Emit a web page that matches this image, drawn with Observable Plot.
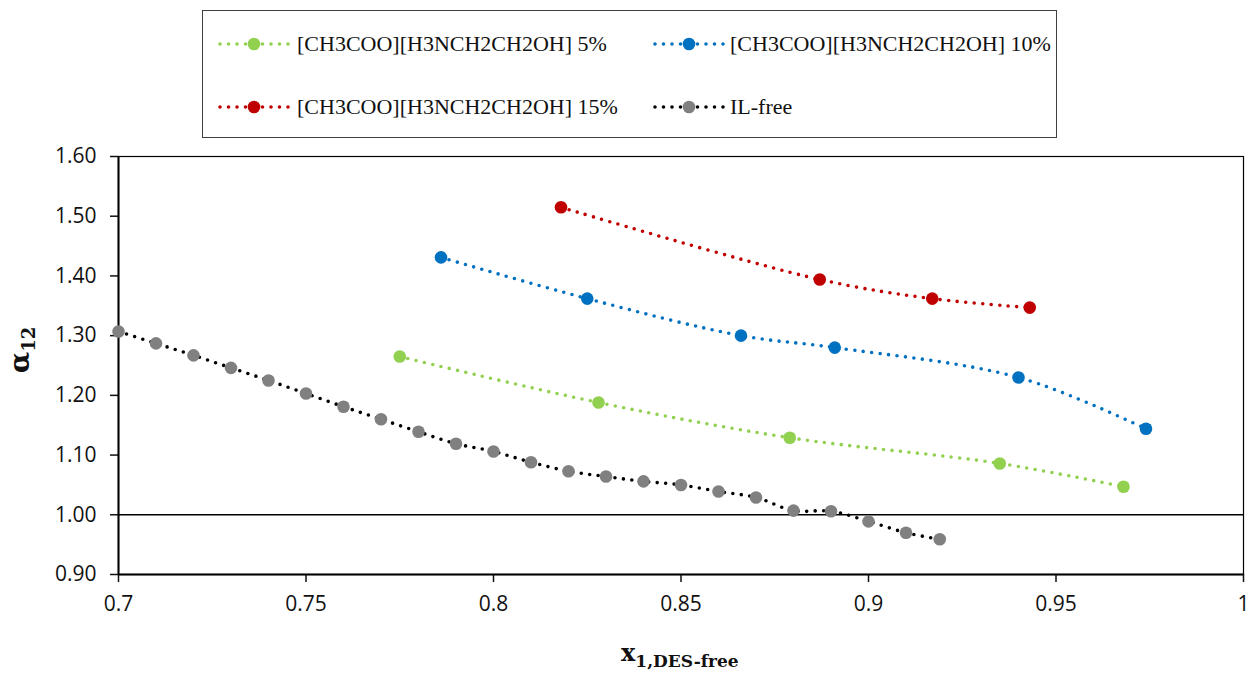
<!DOCTYPE html>
<html>
<head>
<meta charset="utf-8">
<script src="https://cdn.jsdelivr.net/npm/d3@7"></script>
<script src="https://cdn.jsdelivr.net/npm/@observablehq/plot@0.6"></script>
<style>
  html, body { margin: 0; padding: 0; background: #fff; }
  #wrap { position: relative; width: 1252px; height: 677px; overflow: hidden; }
  #legendBox { position: absolute; left: 202px; top: 10px; width: 853px; height: 126px;
            border: 1.5px solid #404040; box-sizing: content-box; }
  .sw { position: absolute; }
  .lt { position: absolute; height: 30px; line-height: 30px;
        font-family: "Liberation Serif", "DejaVu Serif", serif; font-size: 22px; color: #111; white-space: nowrap; }
  #ylab { position: absolute; left: -10px; top: 332px; width: 60px; height: 36px; line-height: 36px;
          transform: rotate(-90deg); transform-origin: center;
          font-family: "DejaVu Serif", serif; font-weight: bold; font-size: 28px; text-align: center; color: #111; }
  #ylab sub { font-size: 18px; vertical-align: -6px; }
  #xlab { position: absolute; left: 621px; top: 638px; font-family: "DejaVu Serif", serif; font-weight: bold;
          font-size: 24px; color: #111; white-space: nowrap; }
  #xlab sub { font-size: 17px; vertical-align: -6px; }
</style>
</head>
<body>
<div id="wrap">
  <div id="chart"></div>
  <div id="legendBox"></div>
  <div id="ylab">α<sub>12</sub></div>
  <div id="xlab">x<sub>1,DES-free</sub></div>
</div>
<script>
// ---- Data ----
const seriesNames = [
  "[CH3COO][H3NCH2CH2OH] 5%",
  "[CH3COO][H3NCH2CH2OH] 10%",
  "[CH3COO][H3NCH2CH2OH] 15%",
  "IL-free"
];
const lineColors = ["#92D050", "#0070C0", "#C00000", "#000000"];
const markerColors = ["#92D050", "#0070C0", "#C00000", "#808080"];

const x5 = [0.775, 0.828, 0.879, 0.935, 0.968];
const y5 = [1.265, 1.188, 1.129, 1.086, 1.047];

const x10 = [0.786, 0.825, 0.866, 0.891, 0.940, 0.974];
const y10 = [1.431, 1.362, 1.300, 1.280, 1.230, 1.144];

const x15 = [0.818, 0.887, 0.917, 0.943];
const y15 = [1.515, 1.394, 1.362, 1.347];

const xFree = [0.70, 0.71, 0.72, 0.73, 0.74, 0.75, 0.76, 0.77, 0.78, 0.79, 0.80, 0.81,
               0.82, 0.83, 0.84, 0.85, 0.86, 0.87, 0.88, 0.89, 0.90, 0.91, 0.919];
const yFree = [1.307, 1.287, 1.267, 1.246, 1.225, 1.203, 1.181, 1.160, 1.139, 1.119, 1.106, 1.088,
               1.073, 1.064, 1.056, 1.050, 1.039, 1.029, 1.007, 1.006, 0.989, 0.970, 0.959];

const xTicks = [0.7, 0.75, 0.8, 0.85, 0.9, 0.95, 1];
const yTicks = [0.9, 1.0, 1.1, 1.2, 1.3, 1.4, 1.5, 1.6];

const xsAll = [x5, x10, x15, xFree];
const ysAll = [y5, y10, y15, yFree];

const rows = [];
xsAll.forEach((xs, i) => xs.forEach((x, j) => rows.push({series: seriesNames[i], idx: i, x, y: ysAll[i][j]})));

const marks = [
  Plot.frame({stroke: "#000", strokeWidth: 1.2}),
  Plot.ruleY([1.0], {stroke: "#000", strokeWidth: 1.5}),
  Plot.axisX({ticks: xTicks, tickSize: 8, tickPadding: 14, fontSize: 21, label: null,
              tickFormat: d => String(+d.toFixed(2)), strokeWidth: 1.5}),
  Plot.axisY({ticks: yTicks, tickSize: 8, tickPadding: 14, fontSize: 21, label: null,
              tickFormat: d => d.toFixed(2), strokeWidth: 1.5}),
  Plot.ruleX([0.7], {stroke: "#000", strokeWidth: 2}),
  Plot.ruleY([0.9], {stroke: "#000", strokeWidth: 2})
];
seriesNames.forEach((s, i) => {
  const d = rows.filter(r => r.idx === i);
  marks.push(Plot.line(d, {x: "x", y: "y", stroke: lineColors[i], strokeWidth: 3.6,
    strokeDasharray: "0 8.5", strokeLinecap: "round", curve: "catmull-rom"}));
});
seriesNames.forEach((s, i) => {
  const d = rows.filter(r => r.idx === i);
  marks.push(Plot.dot(d, {x: "x", y: "y", fill: markerColors[i], r: 6.3, stroke: "none"}));
});

const chart = Plot.plot({
  width: 1252,
  height: 677,
  marginLeft: 118,
  marginRight: 9,
  marginTop: 156,
  marginBottom: 103,
  style: {fontFamily: "'Open Sans', 'Liberation Sans', sans-serif", fontSize: "21px", color: "#111", background: "#fff"},
  x: {domain: [0.7, 1]},
  y: {domain: [0.9, 1.6]},
  marks
});
document.getElementById("chart").appendChild(chart);

// ---- Legend ----
const wrap = document.getElementById("wrap");
const swLeft = [217, 652, 217, 652];
const txLeft = [297, 730, 297, 730];
const rowY = [44, 107, ];
const rowOf = [0, 0, 1, 1];
seriesNames.forEach((s, i) => {
  const cy = rowY[rowOf[i]];
  const sw = document.createElement("div");
  sw.className = "sw";
  sw.style.left = swLeft[i] + "px";
  sw.style.top = (cy - 10) + "px";
  sw.innerHTML = `<svg width="76" height="20"><line x1="3" y1="10" x2="73" y2="10" stroke="${lineColors[i]}" stroke-width="3.6" stroke-dasharray="0 8.5" stroke-linecap="round"/><circle cx="37" cy="10" r="6.3" fill="${markerColors[i]}"/></svg>`;
  wrap.appendChild(sw);
  const t = document.createElement("div");
  t.className = "lt";
  t.style.left = txLeft[i] + "px";
  t.style.top = (cy - 15) + "px";
  t.textContent = s;
  wrap.appendChild(t);
});
</script>
</body>
</html>
